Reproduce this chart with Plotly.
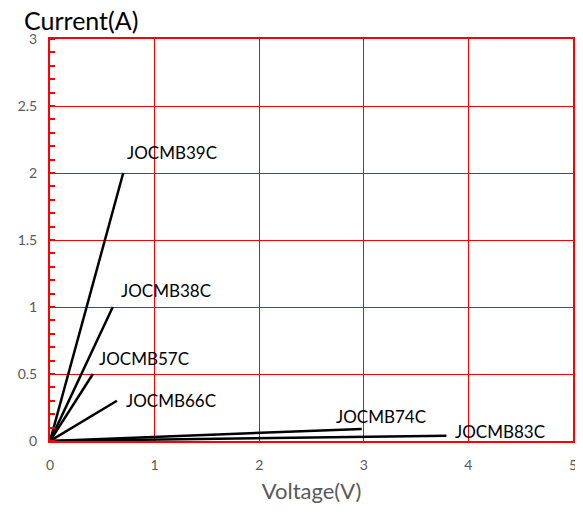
import plotly.graph_objects as go

# Data
names = ["JOCMB39C", "JOCMB38C", "JOCMB57C", "JOCMB66C", "JOCMB74C", "JOCMB83C"]
v_end = [0.70, 0.60, 0.41, 0.64, 2.98, 3.79]
i_end = [2.00, 1.00, 0.50, 0.30, 0.09, 0.04]
x_ticks = [0, 1, 2, 3, 4, 5]
y_ticks = [0, 0.5, 1, 1.5, 2, 2.5, 3]
y_tick_labels = ["0", "0.5", "1", "1.5", "2", "2.5", "3"]

# label offsets in pixels (style)
label_xshift = [2, 6, 4, 7, -28, 7]
label_yshift = [8, 4, 16, 0, 12, 4]
label_yanchor = ["bottom", "bottom", "middle", "middle", "middle", "middle"]

FONT = "Lato, 'Open Sans', sans-serif"
RED = "#ff0000"

fig = go.Figure()
for n, v, c in zip(names, v_end, i_end):
    fig.add_trace(go.Scatter(x=[0, v], y=[0, c], mode="lines",
                             line=dict(color="black", width=2.5),
                             name=n, showlegend=False, hoverinfo="skip"))

for n, v, c, xs, ys, ya in zip(names, v_end, i_end, label_xshift, label_yshift, label_yanchor):
    fig.add_annotation(x=v, y=c, text=n, showarrow=False, xanchor="left",
                       yanchor=ya, xshift=xs, yshift=ys,
                       font=dict(family=FONT, size=17, color="black"))

# page body has an 8px margin, so the figure is sized/offset to compensate
fig.update_layout(
    width=575, height=508,
    margin=dict(l=42, r=10, t=31, b=75, autoexpand=False),
    plot_bgcolor="white", paper_bgcolor="white",
    xaxis=dict(range=[0, 5], tickvals=x_ticks, showgrid=True, gridcolor=RED, gridwidth=1.3,
               showline=True, linecolor=RED, linewidth=2, mirror=True, zeroline=False,
               automargin=False, ticklabelstandoff=10,
               tickfont=dict(family=FONT, size=14, color="#595959"), ticks="",
               title=dict(text="Voltage(V)", font=dict(family=FONT, size=22, color="#595959"),
                          standoff=12)),
    yaxis=dict(range=[0, 3], tickvals=y_ticks, ticktext=y_tick_labels, showgrid=True,
               gridcolor=RED, gridwidth=1.3, showline=True, linecolor=RED, linewidth=2,
               mirror=True, zeroline=False, ticks="", automargin=False, ticklabelstandoff=8,
               tickfont=dict(family=FONT, size=14, color="#595959"),
               minor=dict(dtick=0.1, ticks="inside", ticklen=5, tickcolor=RED, tickwidth=2,
                          showgrid=False)),
)
fig.add_annotation(xref="paper", yref="paper", x=-0.053, y=1.0, yshift=2,
                   text="Current(A)", showarrow=False, xanchor="left", yanchor="bottom",
                   font=dict(family=FONT, size=25, color="black"))

fig.write_html("out.html")
